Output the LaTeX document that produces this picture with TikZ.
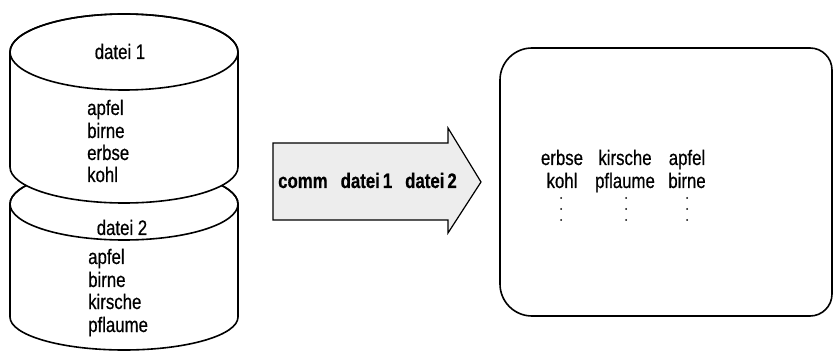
\documentclass[tikz,border=0pt]{standalone}
\usepackage{fontspec}
\setmainfont{Liberation Sans}
\newfontfamily\condfont{Liberation Sans}[FakeStretch=0.8,FakeBold=0.5]
\begin{document}
\begin{tikzpicture}[x=1pt,y=-1pt,
  outline/.style={draw=black,line width=1.6pt,fill=white},
  listtext/.style={font=\condfont\fontsize{21}{22}\selectfont,inner sep=0pt},
  cmdtext/.style={font=\condfont\fontsize{21}{22}\selectfont\bfseries,inner sep=0pt},
  dotmark/.style={fill=black}]
\useasboundingbox (0,0) rectangle (834,352);
% cylinder 2 (drawn first, partly covered)
\path[outline] (10,204) -- (10,317) arc[start angle=180,end angle=360,x radius=114pt,y radius=33pt]
  -- (238,204) arc[start angle=0,end angle=180,x radius=114pt,y radius=36pt] -- cycle;
\draw[line width=1.6pt] (124,204) ellipse [x radius=114pt,y radius=36pt];
% cylinder 1
\path[outline] (10,52) -- (10,167) arc[start angle=180,end angle=360,x radius=114pt,y radius=36pt]
  -- (238,52) arc[start angle=0,end angle=180,x radius=114pt,y radius=38pt] -- cycle;
\draw[line width=1.6pt] (124,52) ellipse [x radius=114pt,y radius=38pt];
% cylinder texts
\node[listtext,anchor=base] (d1) at (120,59) {datei 1};
\node[listtext,anchor=base west] (a1) at (87,115) {apfel};
\node[listtext,anchor=base west] (b1) at (87,138) {birne};
\node[listtext,anchor=base west] (e1) at (87,160) {erbse};
\node[listtext,anchor=base west] (k1) at (87,182) {kohl};
\node[listtext,anchor=base] (d2) at (122,235) {datei 2};
\node[listtext,anchor=base west] (a2) at (88,264) {apfel};
\node[listtext,anchor=base west] (b2) at (88,287) {birne};
\node[listtext,anchor=base west] (k2) at (88,309) {kirsche};
\node[listtext,anchor=base west] (p2) at (88,332) {pflaume};
% block arrow
\draw[line width=1.2pt,fill=black!7] (273,143) -- (448,143) -- (448,128) -- (481,182)
  -- (448,233) -- (448,220) -- (273,220) -- cycle;
\node[cmdtext,anchor=base west] (cmd) at (278,188)
  {comm\hspace{13pt}datei\hspace{3pt}1\hspace{13pt}datei\hspace{3pt}2};
% screen
\draw[line width=1.6pt] (500,80) -- (500,284) arc[start angle=180,end angle=270,radius=32pt]
  -- (810,316) arc[start angle=270,end angle=360,radius=22pt]
  -- (832,70) arc[start angle=0,end angle=90,radius=22pt]
  -- (532,48) arc[start angle=90,end angle=180,radius=32pt] -- cycle;
\node[listtext,anchor=base] (s11) at (562,165) {erbse};
\node[listtext,anchor=base] (s12) at (625,165) {kirsche};
\node[listtext,anchor=base] (s13) at (687,165) {apfel};
\node[listtext,anchor=base] (s21) at (562,188) {kohl};
\node[listtext,anchor=base] (s22) at (625,188) {pflaume};
\node[listtext,anchor=base] (s23) at (687,188) {birne};
\foreach \cx in {561,626,687}{
  \foreach \cy in {198,209,220}{
    \fill[dotmark] (\cx,\cy) circle (1pt);
  }
}
\end{tikzpicture}
\end{document}
